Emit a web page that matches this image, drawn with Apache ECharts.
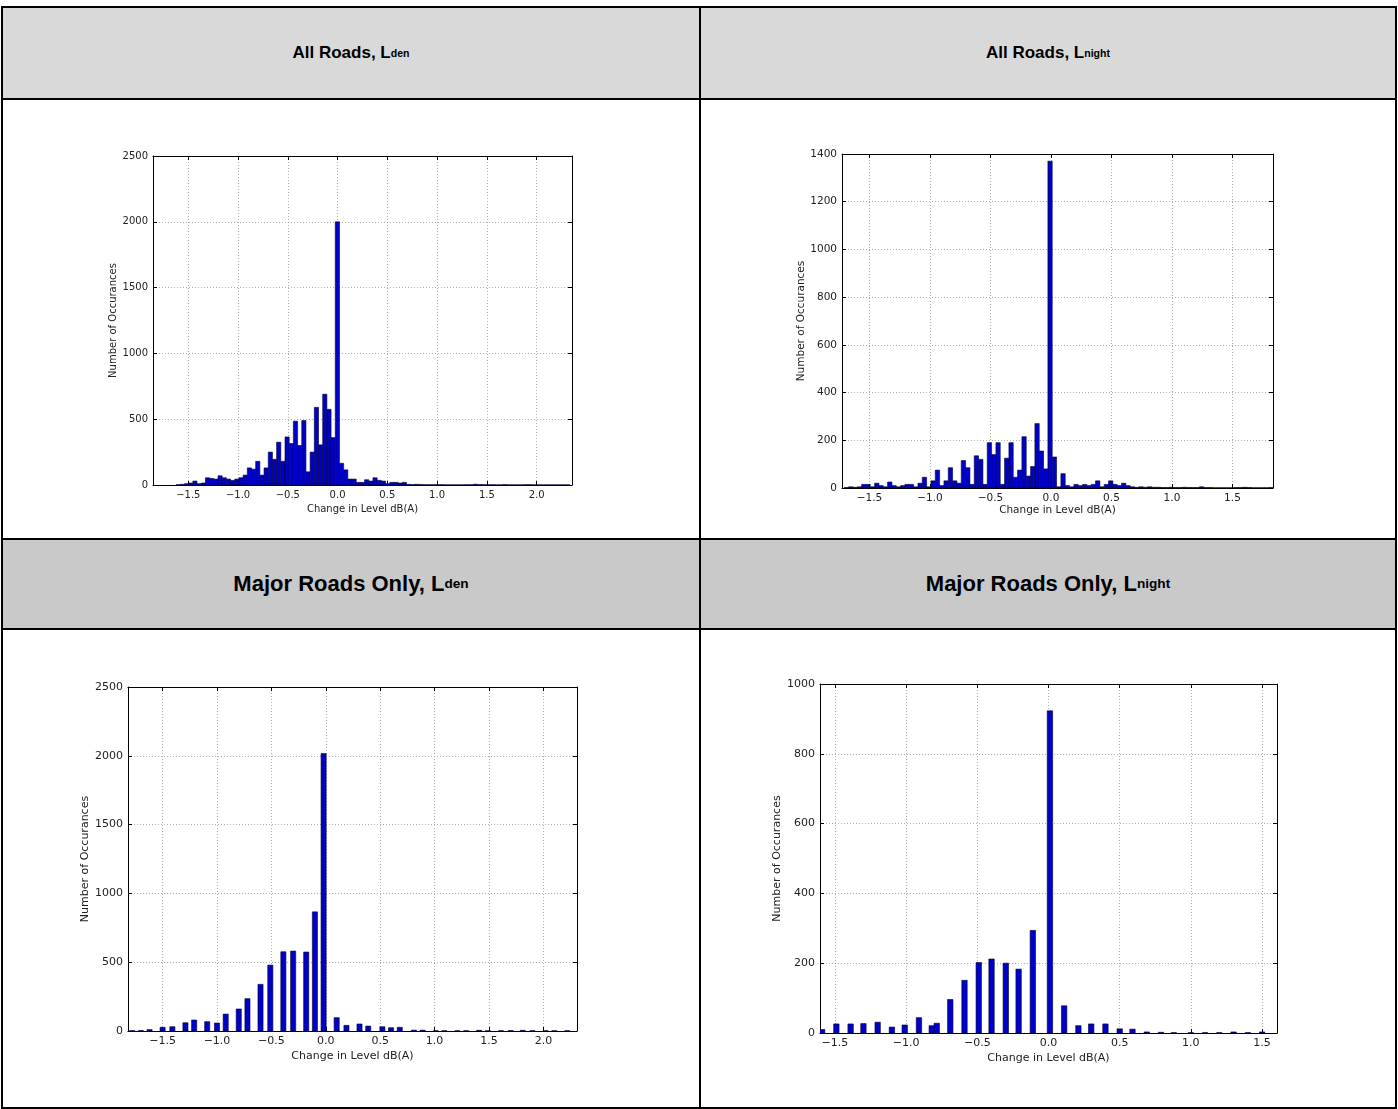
<!DOCTYPE html>
<html><head><meta charset="utf-8">
<script src="https://cdn.jsdelivr.net/npm/echarts@6/dist/echarts.min.js"></script>
<style>
html,body{margin:0;padding:0;background:#fff;}
#page{position:relative;width:1398px;height:1109px;overflow:hidden;background:#fff;}
.hdr{position:absolute;display:flex;align-items:center;justify-content:center;font-family:"Liberation Sans",Arial,sans-serif;font-weight:bold;color:#000;}
.hdr sub{font-size:0.62em;vertical-align:-0.3em;line-height:0;}
.ln{position:absolute;background:#000;}
#chart{position:absolute;left:0;top:0;width:1398px;height:1109px;}
</style></head>
<body><div id="page">
<div class="hdr" style="left:3px;top:8px;width:696px;height:90px;background:#d9d9d9;font-size:17px;">All Roads, L<sub>den</sub></div>
<div class="hdr" style="left:701px;top:8px;width:694px;height:90px;background:#d9d9d9;font-size:17px;">All Roads, L<sub>night</sub></div>
<div class="hdr" style="left:3px;top:540px;width:696px;height:88px;background:#c9c9c9;font-size:22px;">Major Roads Only, L<sub>den</sub></div>
<div class="hdr" style="left:701px;top:540px;width:694px;height:88px;background:#c9c9c9;font-size:22px;">Major Roads Only, L<sub>night</sub></div>
<div class="ln" style="left:1px;top:6px;width:1396px;height:2px;"></div>
<div class="ln" style="left:1px;top:98px;width:1396px;height:2px;"></div>
<div class="ln" style="left:1px;top:538px;width:1396px;height:2px;"></div>
<div class="ln" style="left:1px;top:628px;width:1396px;height:2px;"></div>
<div class="ln" style="left:1px;top:1107px;width:1396px;height:2px;"></div>
<div class="ln" style="left:1px;top:6px;width:2px;height:1103px;"></div>
<div class="ln" style="left:699px;top:6px;width:2px;height:1103px;"></div>
<div class="ln" style="left:1395px;top:6px;width:2px;height:1103px;"></div>
<div id="chart"></div>
</div>
<script>
// ---- Data ----
// Chart 1: All Roads, Lden (histogram, uniform bins)
const allLdenBinStart = -1.623;
const allLdenBinWidth = 0.0421;
const allLdenCounts = [2,5,10,15,30,10,15,55,50,45,70,55,45,35,45,55,75,130,120,180,75,130,250,195,325,180,365,315,485,300,490,100,250,590,305,690,575,360,
 2000,
 165,115,45,45,20,20,40,30,55,35,30,10,20,20,15,20,5,3,5,3,2,2,2,2,2,1,1,1,1,1,2,2,6,3,2,2,2,1,1,3,1,1,1,1,2,2,1,1,1,1,1,1,1,1,1];

// Chart 2: All Roads, Lnight
const allLnightBinStart = -1.708;
const allLnightBinWidth = 0.0358;
const allLnightCounts = [2,5,3,5,15,15,5,20,10,5,25,10,5,10,15,15,5,20,45,5,30,75,10,30,85,30,20,115,85,15,135,120,15,190,140,190,15,125,190,45,75,215,50,90,270,155,80,
 1370,
 130,5,60,10,5,15,10,15,10,15,30,5,15,30,15,10,20,10,5,3,5,3,5,3,3,2,2,3,2,2,3,2,2,2,5,2,2,1,1,1,1,1,2,2,3,2,1,1,1,1,2];

// Chart 3: Major Roads Only, Lden (bar centres)
const majLdenCentres = [-1.78,-1.70,-1.62,-1.50,-1.41,-1.29,-1.21,-1.09,-1.00,-0.92,-0.80,-0.72,-0.60,-0.51,-0.39,-0.30,-0.18,-0.10,-0.02,0.10,0.19,0.31,0.39,0.52,0.60,0.68,0.81,0.89,1.01,1.09,1.21,1.29,1.41,1.49,1.61,1.70,1.81,1.90,2.02,2.10,2.22];
const majLdenCounts = [3,3,10,27,31,60,80,68,58,123,160,235,339,479,576,581,574,866,2016,97,41,51,36,31,24,27,6,6,2,2,2,2,5,2,2,3,5,2,2,2,2];

// Chart 4: Major Roads Only, Lnight
const majLnightCentres = [-1.59,-1.49,-1.39,-1.30,-1.20,-1.10,-1.01,-0.91,-0.82,-0.785,-0.69,-0.59,-0.49,-0.40,-0.30,-0.21,-0.11,0.01,0.11,0.21,0.30,0.40,0.50,0.59,0.69,0.79,0.88,1.00,1.10,1.20,1.30,1.40,1.50];
const majLnightCounts = [10,26,26,27,31,17,23,44,21,28,96,151,202,212,200,183,294,923,78,21,26,26,12,11,3,2,1,1,1,1,3,1,3];

// Tick labels
const xTicksWide = [-1.5,-1.0,-0.5,0.0,0.5,1.0,1.5,2.0];
const xTicksNarrow = [-1.5,-1.0,-0.5,0.0,0.5,1.0,1.5];
const xAxisTitle = 'Change in Level dB(A)';
const yAxisTitle = 'Number of Occurances';

// ---- Build ----
function fromBins(start, w, counts){ return counts.map((v,i)=>[start+i*w, start+(i+1)*w, v]); }
function fromCentres(centres, w, counts){ return centres.map((c,i)=>[c-w/2, c+w/2, counts[i]]); }

const panels = [
  {grid:{left:153, top:156, width:419, height:329}, xmin:-1.855, xmax:2.356, ymax:2500, yint:500, ticks:xTicksWide, data:fromBins(allLdenBinStart, allLdenBinWidth, allLdenCounts), fs:10, ygap:33, xgap:19},
  {grid:{left:842, top:154, width:431, height:334}, xmin:-1.727, xmax:1.835, ymax:1400, yint:200, ticks:xTicksNarrow, data:fromBins(allLnightBinStart, allLnightBinWidth, allLnightCounts), fs:10.5, ygap:28, xgap:17},
  {grid:{left:128, top:687, width:449, height:344}, xmin:-1.818, xmax:2.309, ymax:2500, yint:500, ticks:xTicksWide, data:fromCentres(majLdenCentres, 0.047, majLdenCounts), fs:11, ygap:32, xgap:20},
  {grid:{left:820, top:684, width:457, height:349}, xmin:-1.605, xmax:1.605, ymax:1000, yint:200, ticks:xTicksNarrow, data:fromCentres(majLnightCentres, 0.038, majLnightCounts), fs:11, ygap:32, xgap:20}
];

const fmt = v => (v < 0 ? '\u2212' : '') + Math.abs(v).toFixed(1);
const fmtY = v => String(Math.round(v));
const font = '"DejaVu Sans", sans-serif';
const txt = '#222';

const option = {animation:false, backgroundColor:'transparent', grid:[], xAxis:[], yAxis:[], series:[]};
panels.forEach((p, i) => {
  option.grid.push(Object.assign({containLabel:false}, p.grid));
  const axLine = {show:true, onZero:false, lineStyle:{color:'#000', width:1}};
  const tick = {show:true, inside:true, length:4, lineStyle:{color:'#000', width:1}, customValues:p.ticks};
  const yTick = {show:true, inside:true, length:4, lineStyle:{color:'#000', width:1}};
  option.xAxis.push({
    type:'value', gridIndex:i, position:'bottom', min:p.xmin, max:p.xmax,
    axisLine:axLine, axisTick:tick,
    axisLabel:{show:true, customValues:p.ticks, formatter:fmt, color:txt, fontSize:p.fs, fontFamily:font, margin:5},
    splitLine:{show:true, lineStyle:{color:'#9a9a9a', width:0.8, type:[1,2]}},
    name:xAxisTitle, nameLocation:'middle', nameGap:p.xgap, nameTextStyle:{color:txt, fontSize:p.fs, fontFamily:font}
  });
  option.xAxis.push({
    type:'value', gridIndex:i, position:'top', min:p.xmin, max:p.xmax,
    axisLine:axLine, axisTick:tick, axisLabel:{show:false}, splitLine:{show:false}
  });
  option.yAxis.push({
    type:'value', gridIndex:i, position:'left', min:0, max:p.ymax, interval:p.yint,
    axisLine:axLine, axisTick:yTick,
    axisLabel:{color:txt, fontSize:p.fs, fontFamily:font, margin:5, formatter:fmtY},
    splitLine:{show:true, lineStyle:{color:'#9a9a9a', width:0.8, type:[1,2]}},
    name:yAxisTitle, nameLocation:'middle', nameGap:p.ygap, nameTextStyle:{color:txt, fontSize:p.fs, fontFamily:font}
  });
  option.yAxis.push({
    type:'value', gridIndex:i, position:'right', min:0, max:p.ymax, interval:p.yint,
    axisLine:axLine, axisTick:yTick, axisLabel:{show:false}, splitLine:{show:false}
  });
  option.series.push({
    type:'custom', xAxisIndex:2*i, yAxisIndex:2*i, clip:true,
    encode:{x:[0,1], y:2},
    data:p.data,
    renderItem:function(params, api){
      const a = api.coord([api.value(0), 0]);
      const b = api.coord([api.value(1), api.value(2)]);
      return {type:'rect', shape:{x:a[0], y:b[1], width:b[0]-a[0], height:a[1]-b[1]},
        style:{fill:'#0000c8', stroke:'#000033', lineWidth:0.6}};
    }
  });
});

const chart = echarts.init(document.getElementById('chart'), null, {renderer:'canvas'});
chart.setOption(option);
</script>
</body></html>
